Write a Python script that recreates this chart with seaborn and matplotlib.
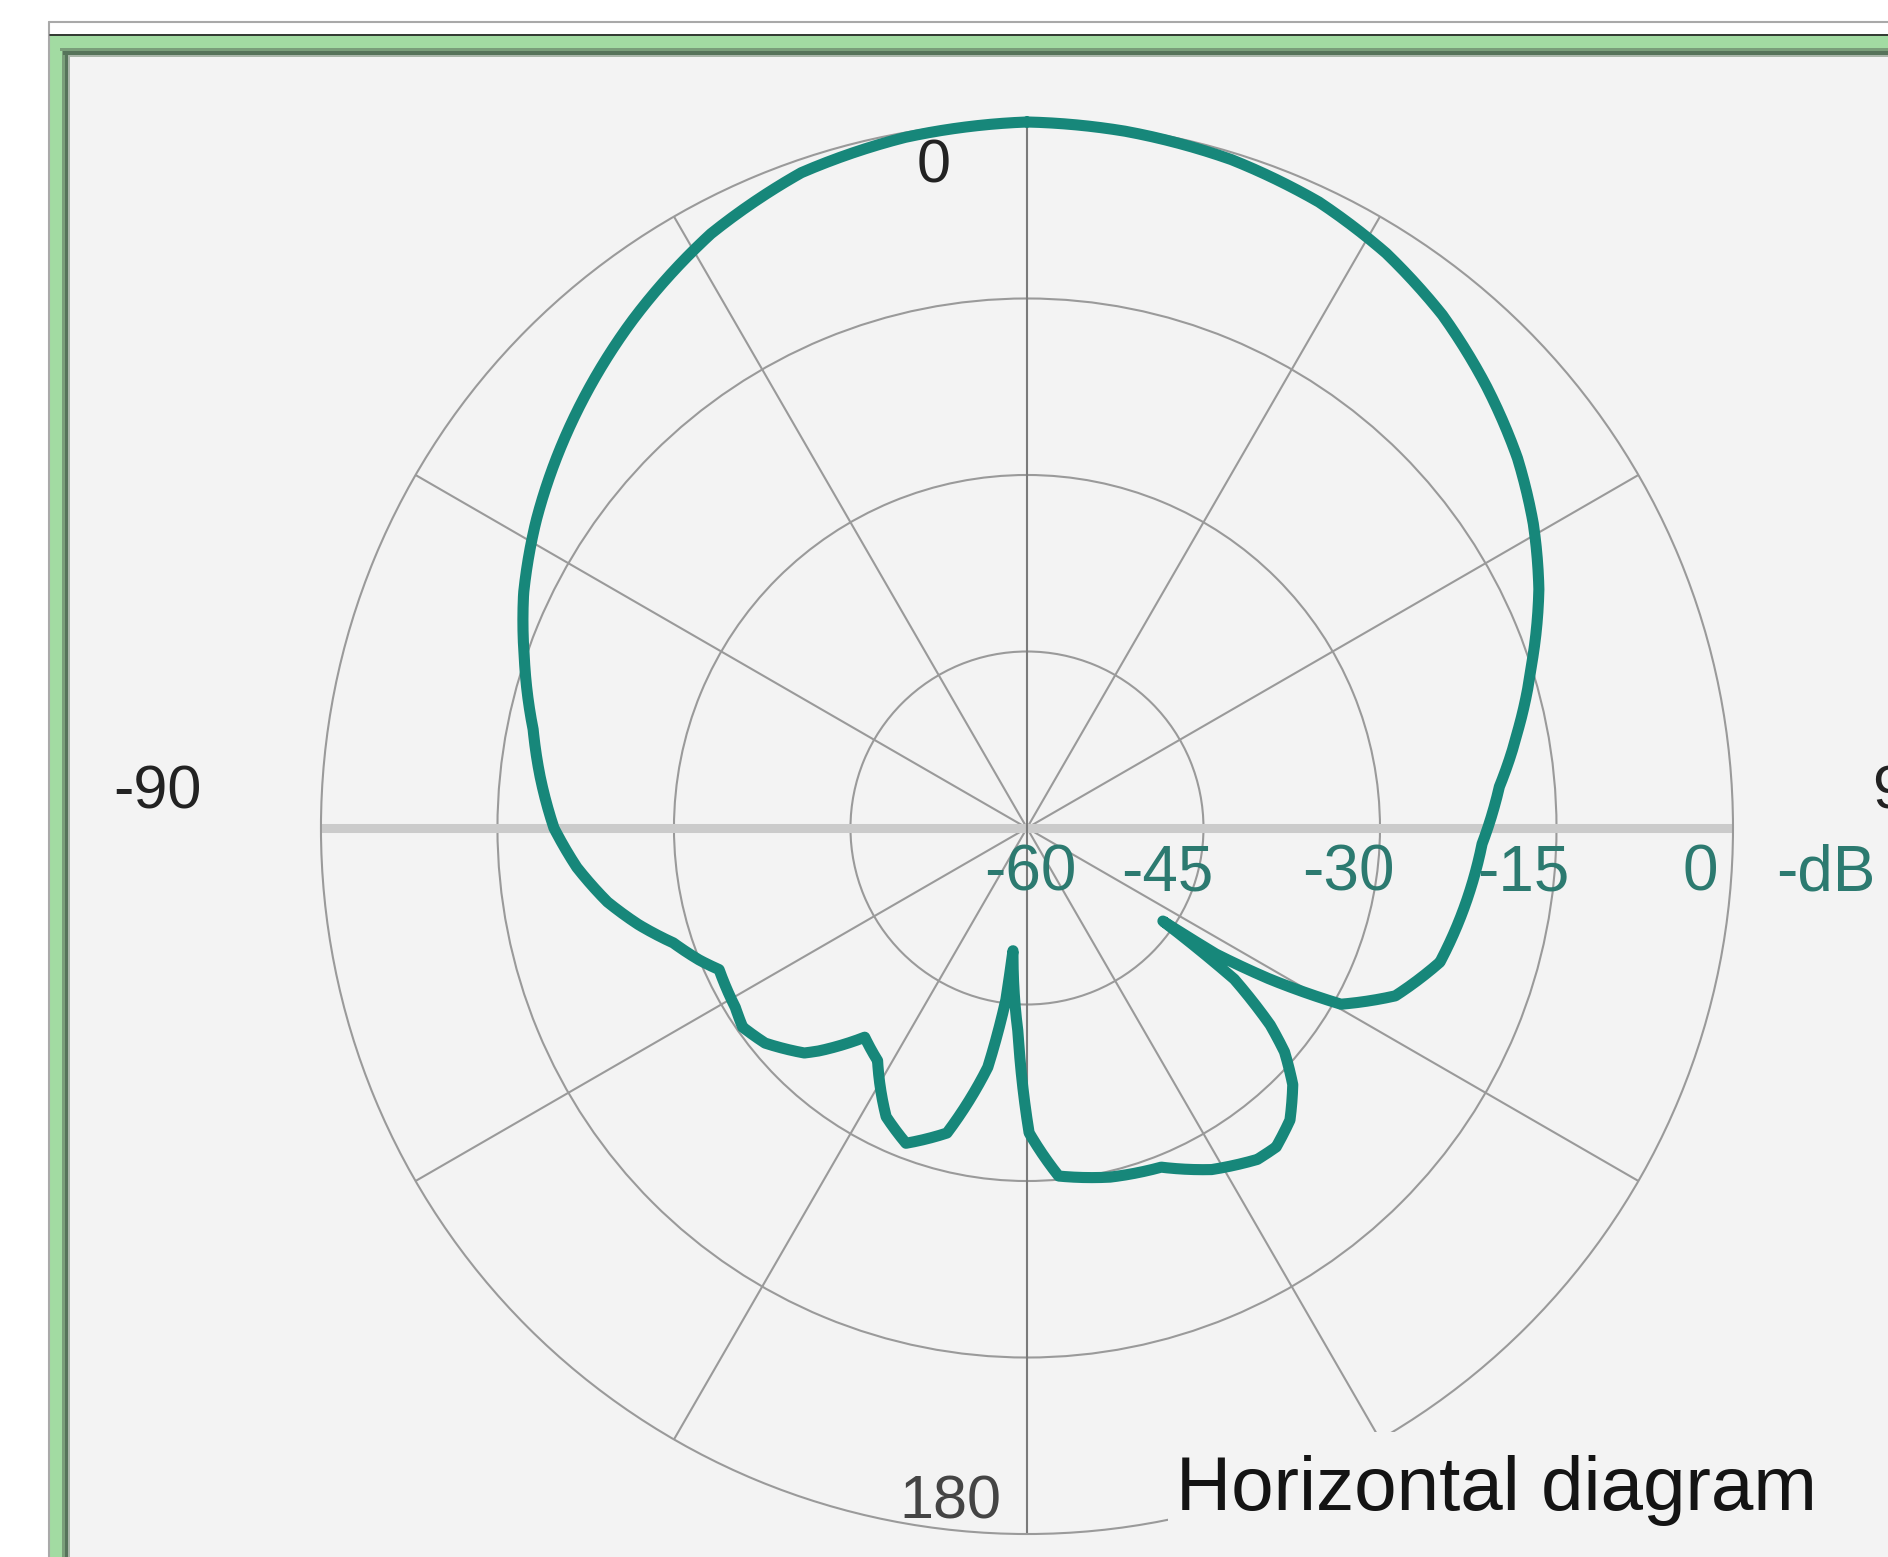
import numpy as np
import seaborn as sns
import matplotlib.pyplot as plt
from matplotlib.patches import Rectangle

# horizontal antenna pattern, angle clockwise from top (deg) and level (dB)
angle_deg = [0, 8, 17, 25, 32, 39, 46, 53, 59, 65, 72, 78.6, 85, 92, 100,
             108, 114.5, 119.3, 121.9, 123.7, 124.4, 126.1, 129, 131, 134,
             138, 142, 145.2, 151.6, 158.4, 166.6, 174.8, 179.6, 182.5, 186.5,
             187, 189.3, 194.7, 201, 206, 212.7, 217.8, 223, 224.7, 230.6, 235,
             238.4, 245.3, 248, 252, 256, 260, 265, 270, 276, 281.3, 288.7,
             295, 302, 312, 322, 332, 341, 350, 360]
gain_db = [0, -0.2, -0.6, -1.3, -2.4, -3.9, -5.8, -7.8, -9.8, -12.0, -14.9,
           -17.4, -19.7, -21.3, -22.2, -23.1, -25.6, -29.4, -35.7, -40.7, -46.0,
           -38.2, -33.4, -31.0, -28.6, -26.6, -25.6, -25.7, -27.0, -29.0, -29.5,
           -30.3, -34.1, -42.6, -49.5, -45.3, -39.4, -33.2, -31.3, -32.7, -36.5,
           -37.5, -34.1, -33.1, -31.2, -30.5, -30.9, -31.2, -30.0, -28.4, -26.0,
           -23.8, -21.6, -19.8, -18.4, -17.2, -14.9, -12.8, -10.8, -8.1, -5.4,
           -2.8, -1.1, -0.4, 0]

ring_levels = [-60, -45, -30, -15, 0]
ring_labels = ["-60", "-45", "-30", "-15", "0"]
spoke_deg = [30, 60, 120, 150, 210, 240, 300, 330]

W, H = 1888, 1557
sns.set_theme(style="white")
plt.rcParams['font.family'] = ['Liberation Sans', 'DejaVu Sans']

fig = plt.figure(figsize=(W / 100, H / 100), dpi=100)
fig.patch.set_facecolor('white')

# window frame drawn in pixel space behind the chart
bg = fig.add_axes([0, 0, 1, 1], zorder=-1)
bg.set_xlim(0, W)
bg.set_ylim(H, 0)
bg.axis('off')
bg.plot([49, W], [22, 22], color='#a9a9a9', lw=1.5)
bg.plot([49, 49], [22, H], color='#a9a9a9', lw=1.5)
bg.add_patch(Rectangle((50, 34), W - 50, H - 34, color='#a2dba2', lw=0))
bg.plot([50, W], [34.5, 34.5], color='#1e1e1e', lw=1.2)
bg.add_patch(Rectangle((60, 48), W - 60, 3, color='#7a9e7a', lw=0))
bg.add_patch(Rectangle((62, 48), 3, H - 48, color='#7a9e7a', lw=0))
bg.add_patch(Rectangle((63, 51), W - 63, 4, color='#56735a', lw=0))
bg.add_patch(Rectangle((65, 51), 3, H - 51, color='#56735a', lw=0))
bg.add_patch(Rectangle((68, 55), W - 68, 2, color='#a9b5a9', lw=0))
bg.add_patch(Rectangle((68, 55), 2, H - 55, color='#a9b5a9', lw=0))
bg.add_patch(Rectangle((70, 57), W - 70, H - 57, color='#f3f3f3', lw=0))

# polar chart: centre (1027, 828) px, 0 dB radius 706 px
ax = fig.add_axes([0.1700, 0.01476, 0.7479, 0.9069], projection='polar')
ax.set_facecolor('none')
ax.set_theta_zero_location('N')
ax.set_theta_direction(-1)
ax.set_ylim(-60, 0)
ax.set_yticks(ring_levels[1:-1])
ax.set_yticklabels([])
ax.set_xticks(np.deg2rad(spoke_deg))
ax.set_xticklabels([])
ax.tick_params(pad=0, length=0)
ax.grid(True, color='#9a9a9a', lw=1.5)
ax.spines['polar'].set_color('#9a9a9a')
ax.spines['polar'].set_linewidth(1.5)

for t in (np.pi / 2, 3 * np.pi / 2):
    ax.axvline(t, color='#cbcbcb', lw=6.5, zorder=1)
for t in (0, np.pi):
    ax.axvline(t, color='#7a7a7a', lw=1.5, zorder=1)

sns.lineplot(x=np.deg2rad(angle_deg), y=gain_db, ax=ax, sort=False,
             estimator=None, color='#17877a', linewidth=8, zorder=3)
pattern = ax.lines[-1]
pattern.set_linewidth(8)
pattern.set_clip_on(False)
pattern.set_solid_joinstyle('round')
# let the polar transform draw each segment along theta instead of a chord
pattern.recache(always=True)
pattern._path._interpolation_steps = 40
ax.set_xlabel('')
ax.set_ylabel('')

# dB scale labels under the horizontal axis
label_dx = [3, -36, -32, -33, -33]
for lev, lab, dx in zip(ring_levels, ring_labels, label_dx):
    ax.annotate(lab, xy=(np.pi / 2, lev), xytext=(dx, -46),
                textcoords='offset pixels', ha='center', va='center',
                fontsize=46, color='#2c7a70', zorder=4)
ax.annotate('-dB', xy=(np.pi / 2, 0), xytext=(93, -46),
            textcoords='offset pixels', ha='center', va='center',
            fontsize=46, color='#2c7a70', annotation_clip=False)

# angle labels
ax.annotate('0', xy=(0, 0), xytext=(-93, -45), textcoords='offset pixels',
            ha='center', va='center', fontsize=44, color='#222222',
            annotation_clip=False)
ax.annotate('-90', xy=(3 * np.pi / 2, 0), xytext=(-164, 35),
            textcoords='offset pixels', ha='center', va='center',
            fontsize=44, color='#222222', annotation_clip=False)
ax.annotate('180', xy=(np.pi, 0), xytext=(-77, 31),
            textcoords='offset pixels', ha='center', va='center',
            fontsize=44, color='#444444', annotation_clip=False)
ax.annotate('90', xy=(np.pi / 2, 0), xytext=(139, 35),
            textcoords='offset pixels', ha='left', va='center',
            fontsize=44, color='#222222', annotation_clip=False)

# title box covering the lower right of the chart
fig.add_artist(Rectangle((1168 / W, 0), 1 - 1168 / W, (H - 1432) / H,
                         transform=fig.transFigure, color='#f3f3f3', lw=0,
                         zorder=5))
fig.text(1176 / W, (H - 1510) / H, 'Horizontal diagram', ha='left',
         va='baseline', fontsize=55, color='#141414', zorder=6)

fig.savefig('out.png', dpi=100)
